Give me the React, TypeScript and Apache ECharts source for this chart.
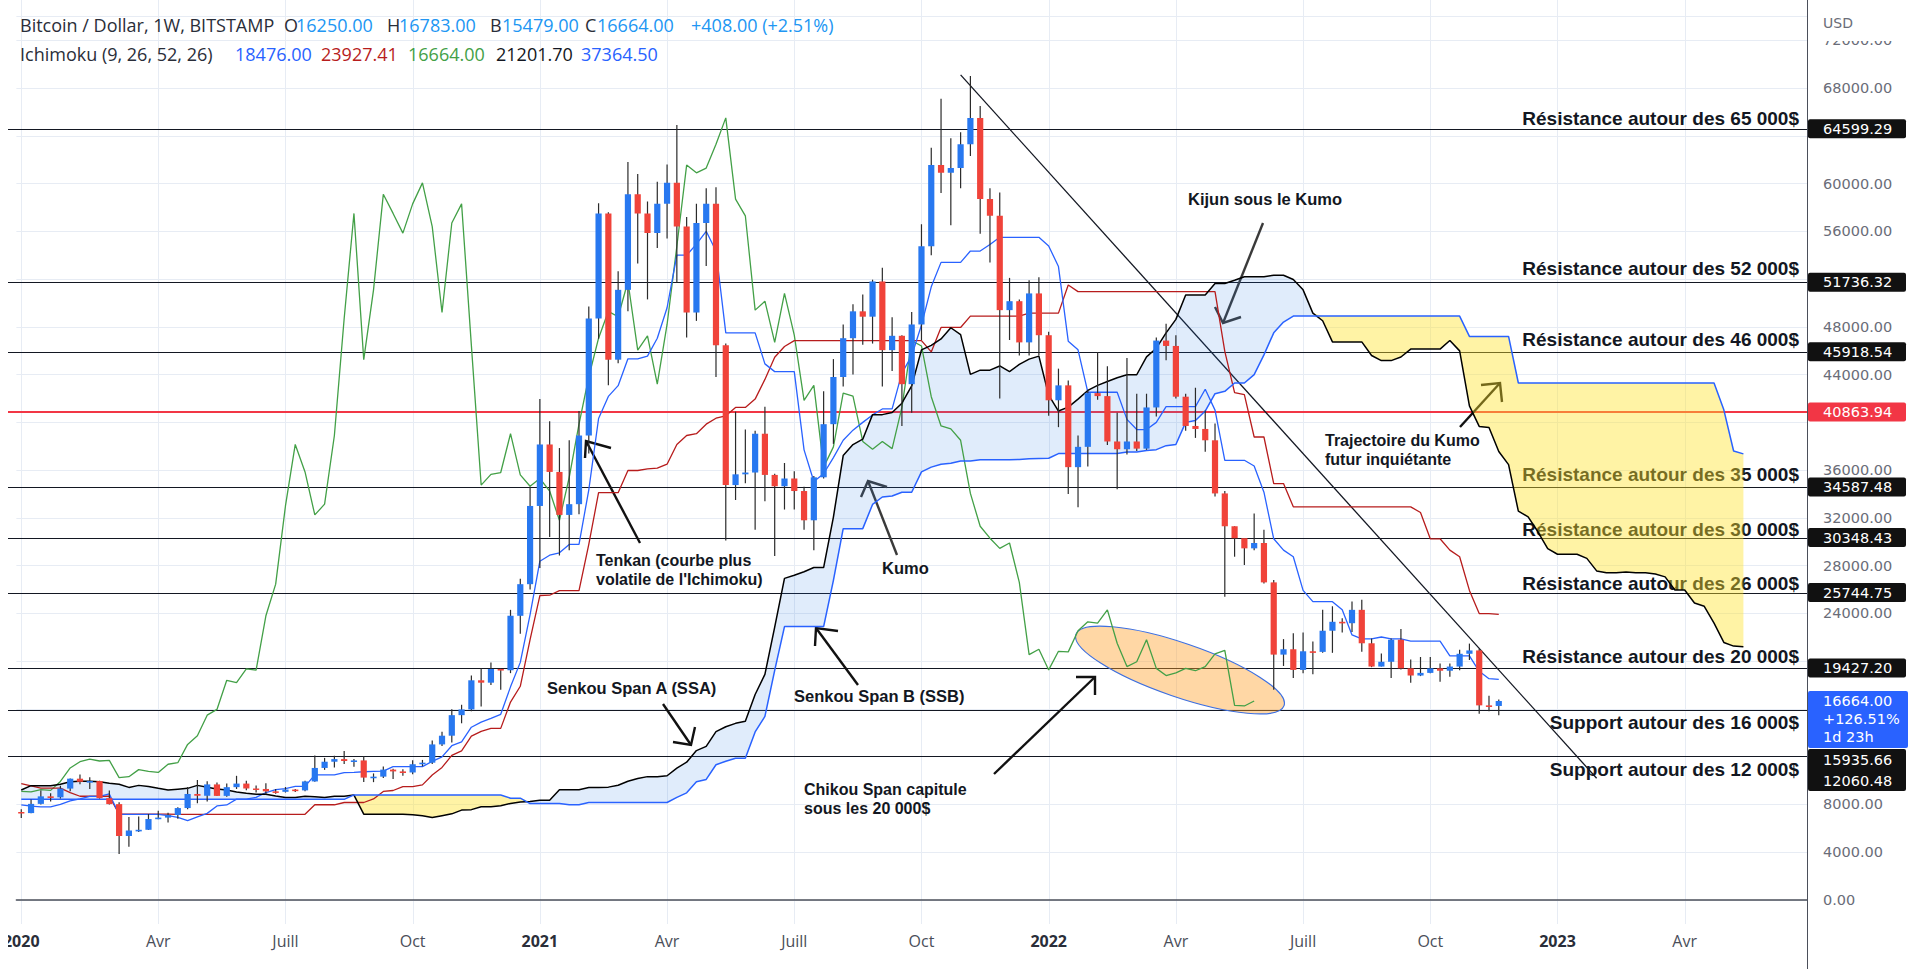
import React, { useEffect, useRef } from "react";
import * as echarts from "echarts";

// ---------- data ----------
const FIRST_WEEK_UTC = Date.UTC(2019, 11, 30);
const WEEK_COUNT = 183;

// weekly candles: [open, high, low, close]
const OHLC: number[][] = [
  [7380,7590,6860,7280],[7280,8420,7260,8050],[8050,9170,8000,8680],[8680,8950,8250,8600],[8600,9570,8500,9330],
  [9330,10180,9100,10160],[10160,10500,9700,9900],[9900,10280,9300,9960],[9960,9990,8500,8530],[8530,9180,8000,8030],
  [8030,8180,3850,5360],[5360,6950,4450,5820],[5820,6990,5700,5880],[5880,7200,5860,6780],[6780,7470,6770,6900],
  [6900,7300,6500,7120],[7120,7760,6800,7700],[7700,9460,7600,8880],[8880,10060,8100,8730],[8730,9950,8250,9680],
  [9680,9850,8700,8720],[8720,9750,8640,9450],[9450,10400,9300,9750],[9750,9990,9200,9340],[9340,9590,9000,9300],
  [9300,9780,8850,9100],[9100,9300,8900,9060],[9060,9460,9000,9250],[9250,9300,9050,9180],[9180,9990,9100,9930],
  [9930,12100,9900,11060],[11060,11900,10900,11580],[11580,12080,11100,11800],[11800,12480,11400,11640],[11640,11800,11150,11690],
  [11690,12050,9880,10250],[10250,10600,9870,10330],[10330,11180,10210,10920],[10920,10990,10140,10770],[10770,10950,10400,10680],
  [10680,11700,10530,11370],[11370,11730,11200,11500],[11500,13350,11400,13030],[13030,14100,12900,13760],[13760,15970,13200,15480],
  [15480,16350,14800,15960],[15960,18800,15800,18400],[18400,19400,16200,18200],[18200,19900,18000,19350],[19350,19400,17600,19250],
  [19250,24300,19000,23800],[23800,26900,22300,26450],[26450,34600,26000,33000],[33000,41950,27800,38150],[38150,40100,30400,35850],
  [35850,37850,28850,32250],[32250,38500,29300,33150],[33150,40950,32300,38900],[38900,49700,37400,48700],[48700,58350,47000,57500],
  [57500,57600,43100,45250],[45250,52650,44950,51100],[51100,61800,49300,59100],[59100,60800,53300,57500],[57500,58500,50300,55850],
  [55850,60150,54600,58300],[58300,61600,55400,60060],[60060,64900,51700,56400],[56400,57200,47100,49200],[49200,58300,48500,56700],
  [56700,59600,53100,58300],[58300,59700,43800,46450],[46450,46600,30100,34750],[34750,40900,33500,35650],[35650,39400,34900,35800],
  [35800,39300,31000,39050],[39050,41300,33400,35600],[35600,35700,28800,34650],[34650,36600,32700,35300],[35300,35900,32700,34250],
  [34250,34600,31000,31800],[31800,35500,29300,35400],[35400,42600,35300,39850],[39850,45300,38200,43800],[43800,48200,43000,47050],
  [47050,49900,44000,49300],[49300,50700,46500,48850],[48850,51950,46600,51800],[51800,52950,43000,46050],[46050,48800,44300,47250],
  [47250,47300,39700,43200],[43200,49250,40800,48200],[48200,56600,46900,54750],[54750,63000,54000,61550],[61550,67100,59200,60900],
  [60900,63800,56500,61300],[61300,64300,59600,63300],[63300,69000,62300,65500],[65500,66500,55800,58700],[58700,59600,53400,57300],
  [57300,59250,42000,49400],[49400,52100,46900,50150],[50150,50300,45600,46700],[46700,51900,45600,50800],[50800,52150,45600,47300],
  [47300,47600,40550,41850],[41850,44500,39600,43100],[43100,43500,34000,36250],[36250,38900,32900,37950],[37950,42700,36300,42450],
  [42450,45900,41900,42200],[42200,44700,38100,38400],[38400,40800,34400,37750],[37750,45400,37300,38400],[38400,42400,37600,37800],
  [37800,42400,37700,41250],[41250,47100,40500,46850],[46850,48250,45200,46400],[46400,47300,42000,42150],[42150,42400,39300,39700],
  [39700,42900,38700,39450],[39450,41000,37550,38500],[38500,39900,33800,34050],[34050,34250,25400,31300],[31300,31300,28750,30300],
  [30300,30300,28050,29450],[29450,32376,29300,29900],[29900,31000,26500,26600],[26600,26800,17600,20550],[20550,21850,19600,21000],
  [21000,22350,18600,19270],[19270,22400,19000,20830],[20830,21650,18900,20780],[20780,24300,20700,22550],[22550,24600,20700,23300],
  [23300,23600,22400,23180],[23180,25000,22450,24300],[24300,25150,20800,21500],[21500,21900,19500,19550],[19550,20650,19550,19950],
  [19950,21900,18600,21800],[21800,22700,19300,19400],[19400,20150,18200,18800],[18800,20350,18750,19020],[19020,20350,19000,19400],
  [19400,19800,18280,19200],[19200,19800,18700,19550],[19550,20950,19250,20620],[20620,21473,20100,20900],[20900,21050,15600,16300],
  [16300,17100,15800,16250],[16250,16783,15479,16664],
];

const TENKAN = [
  7965,7870,7800,7800,8000,8305,8465,8680,8680,8880,
  7175,7175,7175,7175,7175,7065,6920,6655,6955,7255,
  7880,7960,8450,8450,8600,9000,9250,9325,9520,9520,
  10475,10475,10475,10665,10690,10740,10765,10790,11175,11175,
  11175,11175,11610,11985,12920,13245,14470,14900,15215,15550,
  17850,19900,23900,28375,28875,29075,29775,29775,34350,40325,
  42175,43075,45325,45325,45550,47050,49600,54000,54000,54925,
  56000,54350,47500,47500,47500,47500,44900,44250,44250,44250,
  37700,35050,35700,37050,38500,39350,40000,40625,41125,41125,
  44125,45575,48150,51350,53400,53400,53400,54350,54350,54900,
  55500,55500,55500,55500,55500,54775,53050,46800,46075,42525,
  42525,42525,42525,40250,39400,39400,40000,41325,41325,41325,
  41325,42775,41025,36825,36825,36825,36350,34150,30250,29300,
  28750,25925,24988,24988,24988,24300,22200,21875,21875,22025,
  21875,21875,21675,21675,21675,21675,20450,20450,20450,19150,
  18537,18476,
];

const KIJUN = [
  9740,9550,9365,9365,9365,9000,8690,8690,8690,8690,
  7195,7195,7195,7195,7195,7195,7175,7175,7175,7175,
  7175,7175,7175,7175,7175,7175,7175,7175,7175,7175,
  7975,7975,7975,8165,8165,8165,8465,9090,9170,9490,
  9490,9640,10475,11100,12110,12495,13720,14125,14375,14375,
  16575,17900,21800,25500,25525,25910,25910,25910,29785,34110,
  34110,34110,35970,35970,36100,36165,36500,38150,38900,39050,
  39850,40350,40550,41250,41250,41950,43600,45450,46350,46850,
  46850,46850,46850,46850,46850,46850,46850,46850,46850,46850,
  46850,46850,46850,45900,47950,47950,47950,48900,48900,48900,
  48900,48900,48900,49150,49150,49150,49150,51500,50950,50950,
  50950,50950,50950,50950,50950,50950,50950,50950,50950,50950,
  50950,50950,50950,45950,42500,42325,38775,38775,34875,34875,
  32925,32925,32925,32925,32925,32925,32925,32925,32925,32925,
  32925,32925,32925,32450,30250,30250,29300,28750,25925,23988,
  23988,23927,
];

const SENKOU_A = [
  9212,9575,9575,9575,9700,9910,9950,9950,9910,9770,
  9700,9430,9600,9500,9350,9212,9280,9350,9600,9450,
  9300,9212,9050,8935,8850,8852,8710,8582,8582,8682,
  8652,8578,8685,8685,8785,7185,7185,7185,7185,7185,
  7130,7048,6915,7065,7215,7528,7568,7812,7812,7888,
  8088,8212,8250,8348,8348,9225,9225,9225,9415,9428,
  9452,9615,9940,10172,10332,10332,10408,11042,11542,12515,
  12870,14095,14512,14795,14962,17212,18900,22850,26938,27200,
  27492,27842,27842,32068,37218,38142,38592,40648,40648,40825,
  41608,43050,46075,46450,46988,47925,47350,44025,44375,44375,
  44725,44250,44850,45300,45550,42275,40950,41275,41950,42675,
  43100,43425,43738,43988,43988,45488,46212,47500,48625,50675,
  50675,50675,51625,51625,51900,52200,52200,52200,52325,52325,
  51962,51100,49150,48512,46738,46738,46738,46738,45600,45175,
  45175,45475,46138,46138,46138,46138,46862,45988,41388,39662,
  39575,37562,36462,32562,32088,30838,29425,28956,28956,28956,
  28612,27562,27400,27400,27475,27400,27400,27300,27062,25962,
  25962,24875,24600,23188,21569,21262,21202,
];

const SENKOU_B = [
  8430,8430,8430,8430,8430,8430,8430,8430,8430,8430,
  8430,8430,8430,8430,8430,8430,8430,8430,8430,8430,
  8430,8430,8430,8430,8430,8430,8430,8430,8430,8430,
  8430,8430,8430,8430,8800,8800,8800,8800,8800,8800,
  8800,8800,8800,8800,8800,8800,8800,8800,8800,8800,
  8525,8525,8075,8075,8075,8075,7975,7975,8165,8165,
  8165,8165,8165,8165,8165,8165,8165,8600,8975,9910,
  10100,11325,11625,11875,11875,14075,15375,19225,22900,22900,
  22900,22900,22900,26775,31100,31100,31100,33125,33750,33830,
  34150,34150,35850,36250,36500,36575,36770,36770,36875,36875,
  36875,36875,36900,36950,36975,37000,37385,37385,37385,37385,
  37385,37385,37385,37520,37520,37650,37715,38050,38150,40000,
  40150,40950,42400,42600,43300,43300,44000,45650,47500,48400,
  48900,48900,48900,48900,48900,48900,48900,48900,48900,48900,
  48900,48900,48900,48900,48900,48900,48900,48900,47200,47200,
  47200,47200,47200,43300,43300,43300,43300,43300,43300,43300,
  43300,43300,43300,43300,43300,43300,43300,43300,43300,43300,
  43300,43300,43300,43300,41050,37600,37364.5,
];

const LAGGING_SHIFT = 25;

const TICK_LABELS: [number, string][] = [
  [0, "2020"], [14, "Avr"], [27, "Juill"], [40, "Oct"],
  [53, "2021"], [66, "Avr"], [79, "Juill"], [92, "Oct"],
  [105, "2022"], [118, "Avr"], [131, "Juill"], [144, "Oct"],
  [157, "2023"], [170, "Avr"],
];

const LEVELS = [64599.29, 51736.32, 45918.54, 34587.48, 30348.43, 25744.75, 19427.2, 15935.66, 12060.48];
const LEVEL_NOTES = [
  "Résistance autour des 65 000$",
  "Résistance autour des 52 000$",
  "Résistance autour des 46 000$",
  "Résistance autour des 35 000$",
  "Résistance autour des 30 000$",
  "Résistance autour des 26 000$",
  "Résistance autour des 20 000$",
  "Support autour des 16 000$",
  "Support autour des 12 000$",
];
const RED_LEVEL = 40863.94;
const TREND_LINE: [number, number][] = [[96, 69100], [161, 10200]];
// axis values hidden behind the price tags
const COVERED_TICKS = [64000, 52000, 40000, 20000, 16000, 12000];

const LAST_PRICE = 16664.0;
const LAST_CHANGE = "+126.51%";
const LAST_TIMER = "1d 23h";

const HEADER_TITLE = "Bitcoin / Dollar, 1W, BITSTAMP";
const HEADER_OHLC: [string, string][] = [["O", "16250.00"], ["H", "16783.00"], ["B", "15479.00"], ["C", "16664.00"]];
const HEADER_CHANGE = "+408.00 (+2.51%)";
const ICHI_TITLE = "Ichimoku (9, 26, 52, 26)";
const ICHI_VALUES = ["18476.00", "23927.41", "16664.00", "21201.70", "37364.50"];

// ---------- styles ----------
const UP = "#2878f0";
const DOWN = "#f0433a";
const WICK = "#2b2b2b";
const C_TENKAN = "#2962ff";
const C_KIJUN = "#b71c1c";
const C_CHIKOU = "#43a047";
const C_SSA = "#000000";
const C_SSB = "#2962ff";
const GRIDC = "#e7ecf4";
const FONT = "Open Sans";
const NOTE_FONT = "Liberation Sans";
const NUM_FONT = "DejaVu Sans";
const NUM_SIZE = 14.5;

const GRID = { left: 6.7, right: 113, top: 16.4, bottom: 69 };
const PLOT_RIGHT = 1920 - GRID.right;

const CATS = Array.from({ length: WEEK_COUNT }, (_, i) =>
  new Date(FIRST_WEEK_UTC + i * 7 * 86400000).toISOString().slice(0, 10)
);
const tickMap = new Map<number, string>(TICK_LABELS);

function buildOption(): any {
  const candleData = OHLC.map((d, i) => [i, d[0], d[3], d[2], d[1]]);
  const chikou = OHLC.slice(LAGGING_SHIFT).map((d) => d[3]);
  const cloudBase = SENKOU_A.map((a, i) => Math.min(a, SENKOU_B[i]));
  const cloudUp = SENKOU_A.map((a, i) => Math.max(a - SENKOU_B[i], 0));
  const cloudDown = SENKOU_A.map((a, i) => Math.max(SENKOU_B[i] - a, 0));
  const line = (data: number[], color: string, width: number, z: number) => ({
    type: "line", data, symbol: "none", silent: true, z,
    lineStyle: { color, width }, itemStyle: { color },
  });
  return {
    animation: false,
    backgroundColor: "#ffffff",
    grid: { ...GRID, containLabel: false },
    xAxis: {
      type: "category",
      data: CATS,
      boundaryGap: true,
      offset: 24,
      axisLine: { lineStyle: { color: "#4b4f5a", width: 1.5 } },
      axisTick: { show: false },
      splitLine: { show: false },
      axisLabel: {
        interval: (i: number) => tickMap.has(i),
        formatter: (_v: string, i: number) => {
          const t = tickMap.get(i) || "";
          return /^\d{4}$/.test(t) ? `{y|${t}}` : `{m|${t}}`;
        },
        margin: 9,
        rich: {
          y: { fontFamily: FONT, fontSize: 16, fontWeight: "bold", color: "#2a2e39" },
          m: { fontFamily: FONT, fontSize: 16, color: "#4a4e59" },
        },
      },
    },
    yAxis: {
      type: "value",
      position: "right",
      min: 0,
      max: 74000,
      interval: 4000,
      axisLine: { show: true, lineStyle: { color: "#4b4f5a" } },
      axisTick: { show: false },
      axisLabel: {
        margin: 16,
        color: "#6a6d78",
        fontFamily: NUM_FONT,
        fontSize: NUM_SIZE,
        showMaxLabel: false,
        formatter: (v: number) => (COVERED_TICKS.includes(v) ? "" : v.toFixed(2)),
      },
      splitLine: { lineStyle: { color: GRIDC, width: 1 } },
    },
    series: [
      { type: "line", data: cloudBase, stack: "kumo", symbol: "none", silent: true, z: 2, lineStyle: { opacity: 0 } },
      { type: "line", data: cloudUp, stack: "kumo", symbol: "none", silent: true, z: 2, lineStyle: { opacity: 0 }, areaStyle: { color: "rgba(33,120,230,0.14)", opacity: 1 } },
      { type: "line", data: cloudDown, stack: "kumo", symbol: "none", silent: true, z: 2, lineStyle: { opacity: 0 }, areaStyle: { color: "rgba(255,226,40,0.42)", opacity: 1 } },
      line(chikou, C_CHIKOU, 1.3, 3),
      line(KIJUN, C_KIJUN, 1.3, 3),
      line(TENKAN, C_TENKAN, 1.3, 3),
      line(SENKOU_A, C_SSA, 1.5, 3),
      line(SENKOU_B, C_SSB, 1.5, 3),
      {
        type: "custom",
        data: candleData,
        encode: { x: 0, y: [1, 2, 3, 4] },
        z: 5,
        silent: true,
        clip: true,
        renderItem: (_params: any, api: any) => {
          const idx = api.value(0);
          const o = api.value(1), c = api.value(2), l = api.value(3), h = api.value(4);
          const pO = api.coord([idx, o]);
          const pC = api.coord([idx, c]);
          const pL = api.coord([idx, l]);
          const pH = api.coord([idx, h]);
          const w = 6.2;
          const top = Math.min(pO[1], pC[1]);
          const hgt = Math.max(Math.abs(pO[1] - pC[1]), 1.6);
          const color = c >= o ? UP : DOWN;
          return {
            type: "group",
            children: [
              { type: "line", shape: { x1: pH[0], y1: pH[1], x2: pL[0], y2: pL[1] }, style: { stroke: WICK, lineWidth: 1.2 } },
              { type: "rect", shape: { x: pO[0] - w / 2, y: top, width: w, height: hgt }, style: { fill: color, stroke: null } },
            ],
          };
        },
      },
    ],
  };
}

function buildGraphics(chart: any): any[] {
  const X = (i: number) => chart.convertToPixel({ xAxisIndex: 0 }, CATS[i]) as number;
  const Y = (v: number) => chart.convertToPixel({ yAxisIndex: 0 }, v) as number;
  const els: any[] = [];
  const txt = (text: string, x: number, y: number, o: any = {}) => ({
    type: "text", x, y, z: o.z ?? 1, silent: true,
    style: {
      text,
      fill: o.fill ?? "#131722",
      fontFamily: o.family ?? NOTE_FONT,
      fontSize: o.size ?? 16.5,
      fontWeight: o.weight ?? "bold",
      lineHeight: o.lh ?? undefined,
      align: o.align ?? "left",
      verticalAlign: o.va ?? "middle",
      textAlign: o.align ?? "left",
      textVerticalAlign: o.va ?? "middle",
    },
  });
  const hline = (y: number, stroke: string, w: number) => ({
    type: "line", z: 1, silent: true,
    shape: { x1: GRID.left, y1: y, x2: PLOT_RIGHT, y2: y },
    style: { stroke, lineWidth: w },
  });
  const arrow = (shaft: number[][], head: number[][], color: string) => [
    { type: "polyline", z: 1, silent: true, shape: { points: shaft }, style: { stroke: color, lineWidth: 2.4, fill: null } },
    { type: "polyline", z: 1, silent: true, shape: { points: head }, style: { stroke: color, lineWidth: 2.4, fill: null } },
  ];
  const twoLines = (a: string, b: string, x: number, y: number) => {
    els.push(txt(a, x, y, { size: 16 }));
    els.push(txt(b, x, y + 19.5, { size: 16 }));
  };

  // vertical grid lines at the labelled weeks
  TICK_LABELS.forEach(([i]) => {
    const x = Math.round(X(i)) + 0.5;
    els.push({ type: "line", z: 0, silent: true, shape: { x1: x, y1: 0, x2: x, y2: 924 }, style: { stroke: GRIDC, lineWidth: 1 } });
  });

  // horizontal levels
  const noteShift = [-11, -14, -13, -13, -9, -10, -12, 12, 13];
  LEVELS.forEach((v, k) => {
    const y = Math.round(Y(v)) + 0.5;
    els.push(hline(y, "#131722", 1));
    els.push(txt(LEVEL_NOTES[k], 1799, y + noteShift[k], { size: 19, align: "right" }));
  });
  els.push(hline(Math.round(Y(RED_LEVEL)), "#f23645", 2.2));

  // trend line
  const [t0, t1] = TREND_LINE;
  els.push({
    type: "line", z: 1, silent: true,
    shape: { x1: X(t0[0]), y1: Y(t0[1]), x2: X(t1[0]), y2: Y(t1[1]) },
    style: { stroke: "#131722", lineWidth: 1.3 },
  });

  // ellipse around the lagging span
  els.push({
    type: "ellipse", z: 1, silent: true, x: 1180, y: 670, rotation: -0.33,
    shape: { cx: 0, cy: 0, rx: 110, ry: 27 },
    style: { fill: "rgba(255,160,40,0.42)", stroke: "#3d6fe0", lineWidth: 1.2 },
  });

  // annotation texts
  els.push(txt("Kijun sous le Kumo", 1188, 199));
  twoLines("Tenkan (courbe plus", "volatile de l'Ichimoku)", 596, 560);
  els.push(txt("Kumo", 882, 568));
  els.push(txt("Senkou Span A (SSA)", 547, 688));
  els.push(txt("Senkou Span B (SSB)", 794, 696));
  twoLines("Chikou Span capitule", "sous les 20 000$", 804, 789);
  twoLines("Trajectoire du Kumo", "futur inquiétante", 1325, 440);

  // arrows
  els.push(...arrow([[1263, 223], [1223, 323]], [[1215, 307], [1223, 323], [1241, 317]], "#3a3a3a"));
  els.push(...arrow([[640, 543], [586, 441]], [[611, 448], [586, 441], [585, 458]], "#111"));
  els.push(...arrow([[897, 555], [868, 481]], [[861, 497], [868, 481], [887, 487]], "#3a3a3a"));
  els.push(...arrow([[663, 704], [691, 745]], [[673, 742], [691, 745], [695, 727]], "#111"));
  els.push(...arrow([[858, 685], [816, 628]], [[815, 646], [816, 628], [838, 631]], "#111"));
  els.push(...arrow([[994, 774], [1095, 677]], [[1076, 677], [1095, 677], [1095, 695]], "#111"));
  els.push(...arrow([[1460, 427], [1500, 383]], [[1481, 385], [1500, 383], [1502, 402]], "#111"));

  // header legend
  const reg = { weight: "normal", size: 18, z: 25, family: FONT };
  els.push(txt(HEADER_TITLE, 20, 25, { ...reg, fill: "#2a2e39" }));
  const ohlcX = [284, 387, 490, 585];
  HEADER_OHLC.forEach(([k, v], i) => {
    els.push(txt(k, ohlcX[i], 25, { ...reg, fill: "#2a2e39" }));
    els.push(txt(v, ohlcX[i] + 12, 25, { ...reg, fill: "#2196f3" }));
  });
  els.push(txt(HEADER_CHANGE, 691, 25, { ...reg, fill: "#2196f3" }));
  els.push(txt(ICHI_TITLE, 20, 54, { ...reg, fill: "#2a2e39" }));
  const ichiX = [235, 321, 408, 496, 581];
  const ichiC = [C_TENKAN, C_KIJUN, C_CHIKOU, "#131722", C_SSB];
  ICHI_VALUES.forEach((v, i) => els.push(txt(v, ichiX[i], 54, { ...reg, fill: ichiC[i] })));

  // left edge mask, price axis cover + USD
  els.push({ type: "rect", z: 30, silent: true, shape: { x: 0, y: 0, width: 8, height: 969 }, style: { fill: "#ffffff" } });
  els.push({ type: "rect", z: 20, silent: true, shape: { x: PLOT_RIGHT + 1, y: 0, width: 1920 - PLOT_RIGHT, height: 41 }, style: { fill: "#ffffff" } });
  els.push(txt("USD", 1823, 23, { weight: "normal", size: 14, fill: "#6a6d78", z: 21, family: NUM_FONT }));
  els.push({ type: "line", z: 22, silent: true, shape: { x1: PLOT_RIGHT + 0.5, y1: 0, x2: PLOT_RIGHT + 0.5, y2: 969 }, style: { stroke: "#4b4f5a", lineWidth: 1 } });

  // price tags
  const tagText = { weight: "normal", size: NUM_SIZE, fill: "#ffffff", z: 24, family: NUM_FONT };
  const tag = (v: number, bg: string) => {
    const yc = Y(v);
    els.push({ type: "rect", z: 23, silent: true, shape: { x: 1808, y: yc - 9.5, width: 98, height: 19, r: 2 }, style: { fill: bg } });
    els.push(txt(v.toFixed(2), 1823, yc, tagText));
  };
  [64599.29, 51736.32, 45918.54, 34587.48, 30348.43, 25744.75, 19427.2].forEach((v) => tag(v, "#111111"));
  tag(RED_LEVEL, "#f23645");
  const ly = Y(LAST_PRICE);
  els.push({ type: "rect", z: 23, silent: true, shape: { x: 1808, y: ly - 10, width: 100, height: 57, r: 2 }, style: { fill: "#2962ff" } });
  [LAST_PRICE.toFixed(2), LAST_CHANGE, LAST_TIMER].forEach((s, i) =>
    els.push(txt(s, 1823, ly + i * 18, tagText))
  );
  const py = ly + 48;
  els.push({ type: "rect", z: 23, silent: true, shape: { x: 1808, y: py, width: 98, height: 42, r: 2 }, style: { fill: "#111111" } });
  [LEVELS[7], LEVELS[8]].forEach((v, i) =>
    els.push(txt(v.toFixed(2), 1823, py + 10.5 + i * 21, tagText))
  );
  return els;
}

export default function App() {
  const ref = useRef<HTMLDivElement>(null);
  useEffect(() => {
    const el = ref.current;
    if (!el) return;
    const chart = echarts.init(el, undefined, { renderer: "svg" });
    chart.setOption(buildOption());
    chart.setOption({ graphic: buildGraphics(chart) });
    return () => chart.dispose();
  }, []);
  return (
    <div
      ref={ref}
      style={{ position: "fixed", left: 0, top: 0, width: "1920px", height: "969px", background: "#ffffff" }}
    />
  );
}
